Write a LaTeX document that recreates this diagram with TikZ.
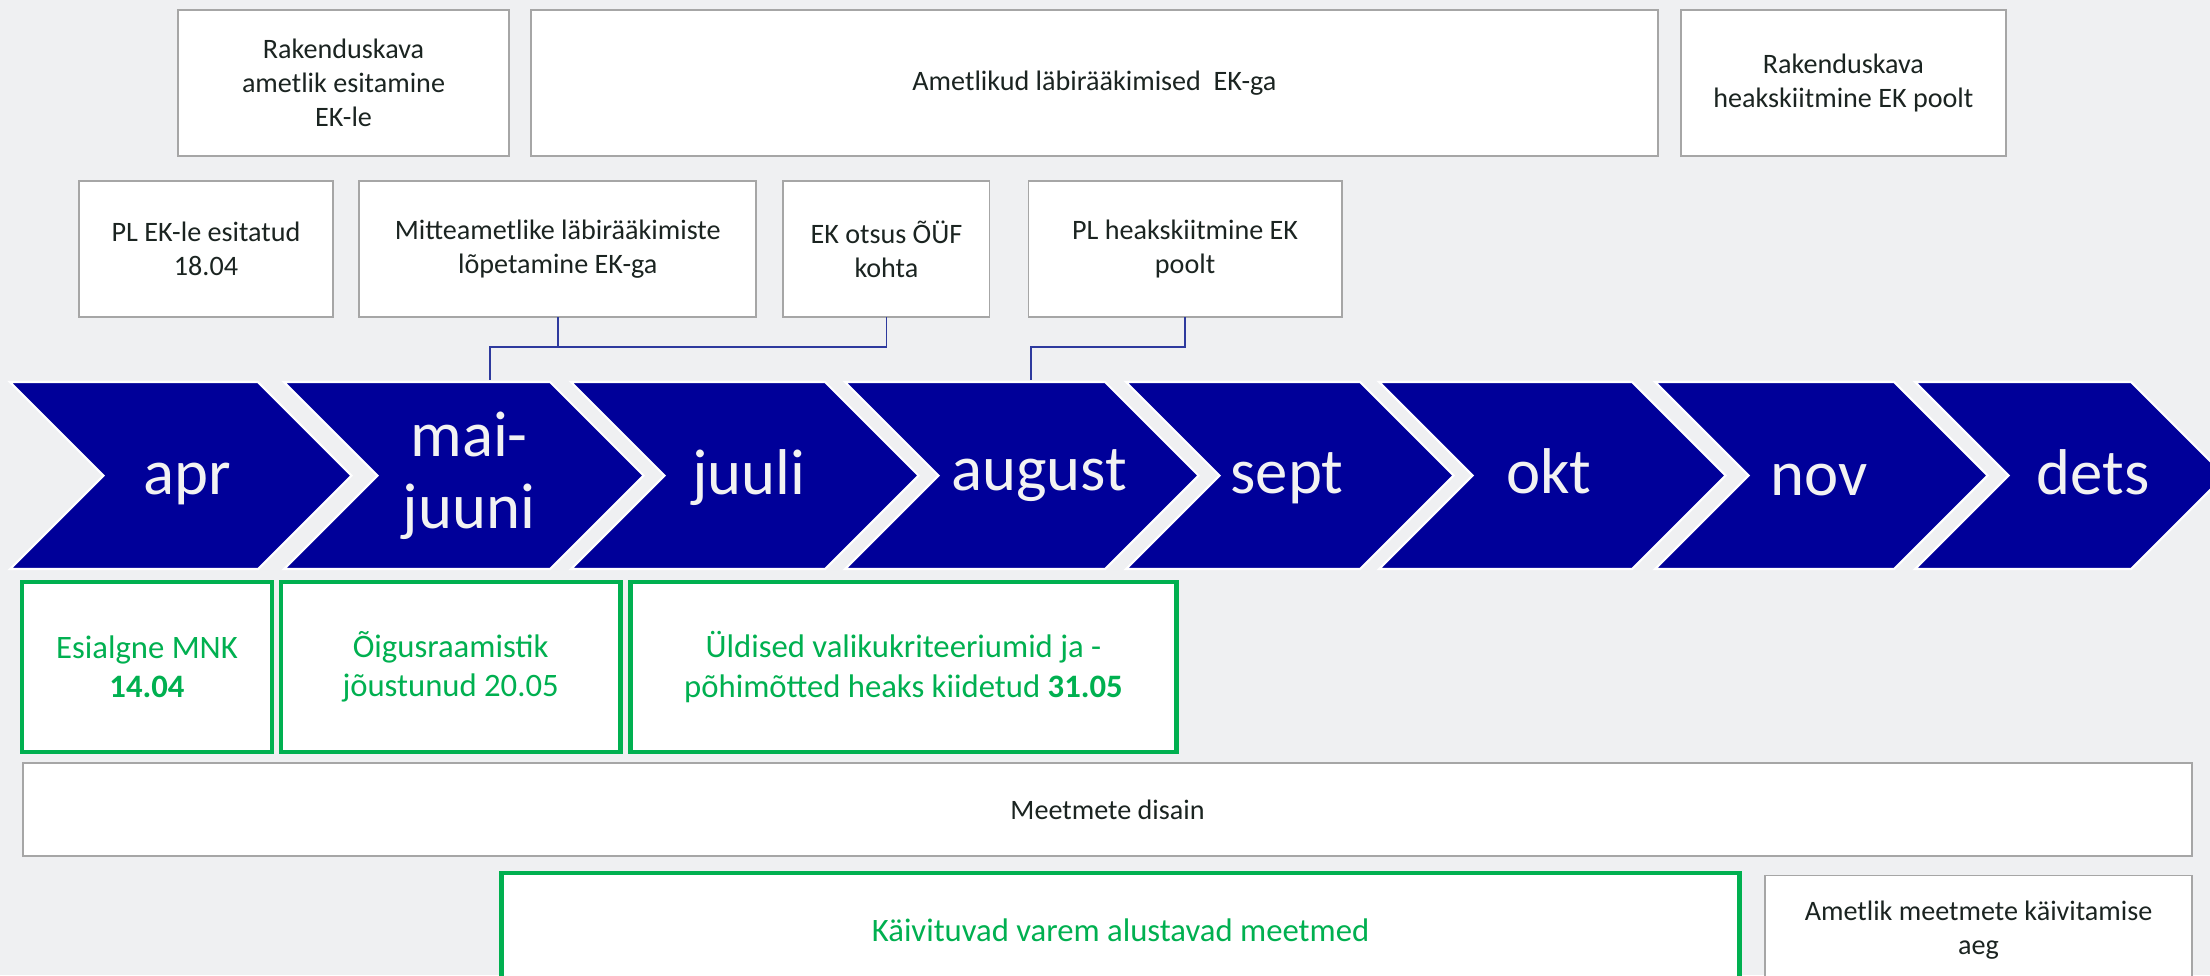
\documentclass[tikz,border=0pt]{standalone}
\usepackage{fontspec}
\setmainfont{Carlito}
\usetikzlibrary{positioning}

\definecolor{bgray}{HTML}{EFF0F2}
\definecolor{navy}{HTML}{000099}
\definecolor{okgreen}{HTML}{00B050}
\definecolor{boxline}{HTML}{A6A6A6}
\definecolor{linkblue}{HTML}{2E3A9E}
\definecolor{ink}{HTML}{1B2421}

\tikzset{
  event/.style={draw=boxline, line width=0.55pt, outer sep=0pt, fill=white, rectangle, align=center, text=ink, font=\fontsize{8}{9.6}\selectfont},
  done/.style={draw=okgreen, line width=1.3pt, outer sep=0pt, fill=white, rectangle, align=center, text=okgreen, font=\fontsize{9.3}{11.2}\selectfont},
  month/.style={text=white!95!black, align=center, font=\fontsize{18.4}{20.4}\selectfont},
  chev/.style={fill=navy, draw=white, line width=0.6pt},
  link/.style={draw=linkblue, line width=0.45pt},
}

\begin{document}
\begin{tikzpicture}[x=0.01cm, y=-0.01cm]
\useasboundingbox (0,0) rectangle (2210,975);
\fill[bgray] (0,0) rectangle (2210,975);
\clip (0,0) rectangle (2210,975);

% month arrows
\foreach \l/\r/\tx/\ty/\name/\txt in {10/258/187/494/apr/apr, 571/825/749/494/juuli/juuli, 845/1105/1039/490/august/august, 1126/1360/1287/493/sept/sept, 1379/1632/1549/493/okt/okt, 1655/1894/1819/495/nov/nov, 1915/2131/2093/494/dets/dets}{
  \draw[chev] (\l,382) -- (\r,382) -- ({\r+93.5},475.5) -- (\r,569) -- (\l,569) -- ({\l+93.5},475.5) -- cycle;
  \node (\name) [month, anchor=base] at (\tx,\ty) {\txt};
}
\draw[chev] (284,382) -- (550,382) -- (643.5,475.5) -- (550,569) -- (284,569) -- (377.5,475.5) -- cycle;
\node (maijuuni) [month] at (469,476) {mai-\\juuni};
\coordinate (maitop) at (490,380);
\coordinate (augtop) at (1031,380);

% top rows
\node (ametesit) [event, minimum width=3.31cm, minimum height=1.46cm] at (343.5,83) {Rakenduskava\\ametlik esitamine\\EK-le};
\node (labiraak) [event, right=0.22cm of ametesit, minimum width=11.26cm, minimum height=1.46cm] {Ametlikud läbirääkimised\ \ EK-ga};
\node (heakskiit) [event, right=0.23cm of labiraak, minimum width=3.25cm, minimum height=1.46cm] {Rakenduskava\\heakskiitmine EK poolt};

\node (plesit) [event, minimum width=2.54cm, minimum height=1.36cm] at (206,249) {PL EK-le esitatud\\18.04};
\node (mitteamet) [event, right=0.26cm of plesit, minimum width=3.97cm, minimum height=1.36cm] {Mitteametlike läbirääkimiste\\lõpetamine EK-ga};
\node (ouf) [event, right=0.27cm of mitteamet, minimum width=2.06cm, minimum height=1.36cm] {EK otsus ÕÜF\\kohta};
\node (plheaks) [event, right=0.39cm of ouf, minimum width=3.13cm, minimum height=1.36cm] {PL heakskiitmine EK\\poolt};

\draw[link] (mitteamet.south) -- ++(0,30);
\draw[link] (ouf.south) -- ++(0,30) -| (maitop);
\draw[link] (plheaks.south) -- ++(0,30) -| (augtop);

% below the arrows
\node (mnk) [done, minimum width=2.50cm, minimum height=1.70cm] at (147,667) {Esialgne MNK\\\textbf{14.04}};
\node (oigus) [done, right=0.09cm of mnk, minimum width=3.39cm, minimum height=1.70cm] {Õigusraamistik\\jõustunud 20.05};
\node (valik) [done, right=0.10cm of oigus, minimum width=5.46cm, minimum height=1.70cm] {Üldised valikukriteeriumid ja -\\põhimõtted heaks kiidetud \textbf{31.05}};

\node (disain) [event, minimum width=21.67cm, minimum height=0.93cm] at (1107.5,809.5) {Meetmete disain};

\node (kaivit) [done, minimum width=12.37cm, minimum height=1.15cm] at (1120.5,930.5) {Käivituvad varem alustavad meetmed};
\node (ametkaiv) [event, right=0.26cm of kaivit, minimum width=4.26cm, minimum height=1.10cm] {Ametlik meetmete käivitamise\\aeg};
\end{tikzpicture}
\end{document}
